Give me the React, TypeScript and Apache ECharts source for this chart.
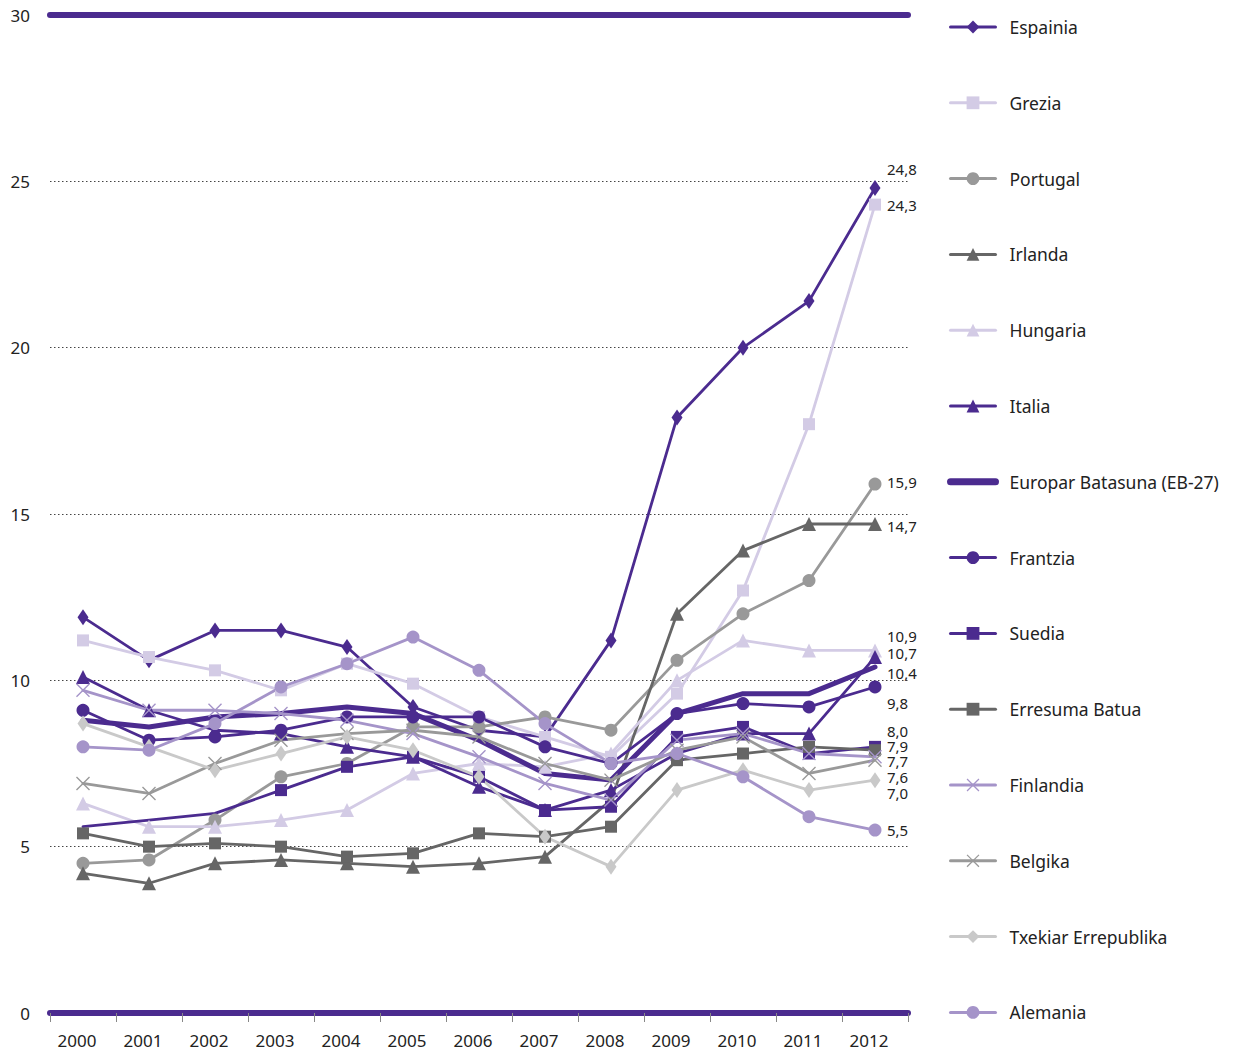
import React, { useEffect, useRef } from "react";
import * as echarts from "echarts";

const years = ["2000", "2001", "2002", "2003", "2004", "2005", "2006", "2007", "2008", "2009", "2010", "2011", "2012"];

const espainia = [11.9, 10.6, 11.5, 11.5, 11.0, 9.2, 8.5, 8.3, 11.2, 17.9, 20.0, 21.4, 24.8];
const grezia = [11.2, 10.7, 10.3, 9.7, 10.5, 9.9, 8.9, 8.3, 7.7, 9.6, 12.7, 17.7, 24.3];
const portugal = [4.5, 4.6, 5.8, 7.1, 7.5, 8.6, 8.6, 8.9, 8.5, 10.6, 12.0, 13.0, 15.9];
const irlanda = [4.2, 3.9, 4.5, 4.6, 4.5, 4.4, 4.5, 4.7, 6.4, 12.0, 13.9, 14.7, 14.7];
const hungaria = [6.3, 5.6, 5.6, 5.8, 6.1, 7.2, 7.5, 7.4, 7.8, 10.0, 11.2, 10.9, 10.9];
const italia = [10.1, 9.1, 8.5, 8.4, 8.0, 7.7, 6.8, 6.1, 6.7, 7.8, 8.4, 8.4, 10.7];
const eb27 = [8.8, 8.6, 8.9, 9.0, 9.2, 9.0, 8.2, 7.2, 7.0, 9.0, 9.6, 9.6, 10.4];
const frantzia = [9.1, 8.2, 8.3, 8.5, 8.9, 8.9, 8.9, 8.0, 7.5, 9.0, 9.3, 9.2, 9.8];
const suedia = [5.6, 5.8, 6.0, 6.7, 7.4, 7.7, 7.1, 6.1, 6.2, 8.3, 8.6, 7.8, 8.0];
const erresumaBatua = [5.4, 5.0, 5.1, 5.0, 4.7, 4.8, 5.4, 5.3, 5.6, 7.6, 7.8, 8.0, 7.9];
const finlandia = [9.7, 9.1, 9.1, 9.0, 8.8, 8.4, 7.7, 6.9, 6.4, 8.2, 8.4, 7.8, 7.7];
const belgika = [6.9, 6.6, 7.5, 8.2, 8.4, 8.5, 8.3, 7.5, 7.0, 7.9, 8.3, 7.2, 7.6];
const txekiar = [8.7, 8.0, 7.3, 7.8, 8.3, 7.9, 7.1, 5.3, 4.4, 6.7, 7.3, 6.7, 7.0];
const alemania = [8.0, 7.9, 8.7, 9.8, 10.5, 11.3, 10.3, 8.7, 7.5, 7.8, 7.1, 5.9, 5.5];

const yTicks = { min: 0, max: 30, interval: 5 };

const PURPLE = "#4B2B8F";
const LIGHT_LAV = "#D3CBE5";
const MID_LAV = "#A594C9";
const GRAY = "#999999";
const DARK_GRAY = "#666666";
const LIGHT_GRAY = "#C9C9C9";

const X_PATH =
  "path://M0,0.7 L0.7,0 L5,4.3 L9.3,0 L10,0.7 L5.7,5 L10,9.3 L9.3,10 L5,5.7 L0.7,10 L0,9.3 L4.3,5 Z";

type Cfg = {
  name: string;
  data: number[];
  color: string;
  symbol: string;
  size: number | number[];
  width?: number;
  labelDy: number;
  noSymbolUntil?: number;
  hideSymbols?: boolean;
};

const seriesCfg: Cfg[] = [
  { name: "Espainia", data: espainia, color: PURPLE, symbol: "diamond", size: [11, 16], labelDy: -19 },
  { name: "Grezia", data: grezia, color: LIGHT_LAV, symbol: "rect", size: 12, labelDy: 0 },
  { name: "Portugal", data: portugal, color: GRAY, symbol: "circle", size: 13, labelDy: -2 },
  { name: "Irlanda", data: irlanda, color: DARK_GRAY, symbol: "triangle", size: 14, labelDy: 2 },
  { name: "Hungaria", data: hungaria, color: LIGHT_LAV, symbol: "triangle", size: 14, labelDy: -14 },
  { name: "Italia", data: italia, color: PURPLE, symbol: "triangle", size: 14, labelDy: -4 },
  { name: "Europar Batasuna (EB-27)", data: eb27, color: PURPLE, symbol: "circle", size: 0, width: 5, labelDy: 6, hideSymbols: true },
  { name: "Frantzia", data: frantzia, color: PURPLE, symbol: "circle", size: 13, labelDy: 16 },
  { name: "Suedia", data: suedia, color: PURPLE, symbol: "rect", size: 12, labelDy: -16, noSymbolUntil: 3 },
  { name: "Erresuma Batua", data: erresumaBatua, color: DARK_GRAY, symbol: "rect", size: 12, labelDy: -4 },
  { name: "Finlandia", data: finlandia, color: MID_LAV, symbol: X_PATH, size: 14, labelDy: 4 },
  { name: "Belgika", data: belgika, color: GRAY, symbol: X_PATH, size: 14, labelDy: 17 },
  { name: "Txekiar Errepublika", data: txekiar, color: LIGHT_GRAY, symbol: "diamond", size: [11, 16], labelDy: 13 },
  { name: "Alemania", data: alemania, color: MID_LAV, symbol: "circle", size: 13, labelDy: 0 },
];

const FONT = "Noto Sans";

export default function App() {
  const ref = useRef<HTMLDivElement>(null);

  useEffect(() => {
    if (!ref.current) return;
    const chart = echarts.init(ref.current, undefined, { renderer: "svg" });

    const series = seriesCfg.map((c) => ({
      name: c.name,
      type: "line",
      xAxisIndex: 0,
      yAxisIndex: 0,
      symbol: c.symbol,
      symbolSize: c.size,
      showSymbol: !c.hideSymbols,
      lineStyle: { color: c.color, width: c.width ?? 2.8, cap: "round", join: "round" },
      itemStyle: { color: c.color },
      data: c.data.map((v, i) => {
        const d: any = { value: v };
        if (c.noSymbolUntil && i < c.noSymbolUntil) d.symbol = "none";
        return d;
      }),
      endLabel: {
        show: true,
        distance: 12,
        offset: [0, c.labelDy],
        color: "#222",
        fontSize: 15,
        lineHeight: 14,
        fontFamily: FONT,
        formatter: (p: any) => Number(p.value).toFixed(1).replace(".", ","),
      },
      emphasis: { disabled: true },
    }));

    chart.setOption({
      animation: false,
      textStyle: { fontFamily: FONT },
      grid: { left: 50, right: 331, top: 15, bottom: 39, containLabel: false },
      legend: {
        orient: "vertical",
        left: 947,
        top: 18,
        padding: 0,
        itemWidth: 45,
        itemHeight: 16,
        itemGap: 57.8,
        lineStyle: { width: 3 },
        textStyle: { fontSize: 17.5, color: "#222", fontFamily: FONT, lineHeight: 18, padding: [0, 0, 0, 9] },
        data: seriesCfg.map((c) =>
          c.hideSymbols
            ? { name: c.name, itemStyle: { opacity: 0 }, lineStyle: { width: 7, cap: "round" } }
            : { name: c.name }
        ),
      },
      xAxis: [
        {
          type: "category",
          data: years,
          boundaryGap: true,
          position: "bottom",
          axisLine: { show: true, lineStyle: { color: PURPLE, width: 6 } },
          axisTick: { show: true, length: 9, lineStyle: { color: "#888", width: 1 } },
          axisLabel: { color: "#222", fontSize: 17, fontFamily: FONT, margin: 19, padding: [0, 12, 0, 0] },
          splitLine: { show: false },
        },
        {
          type: "category",
          data: years,
          boundaryGap: true,
          position: "top",
          axisLine: { show: true, lineStyle: { color: PURPLE, width: 6 } },
          axisTick: { show: false },
          axisLabel: { show: false },
          splitLine: { show: false },
        },
      ],
      yAxis: {
        type: "value",
        min: yTicks.min,
        max: yTicks.max,
        interval: yTicks.interval,
        axisLine: { show: false },
        axisTick: { show: false },
        axisLabel: { color: "#222", fontSize: 17, fontFamily: FONT, margin: 20 },
        splitLine: { show: true, lineStyle: { color: "#444", width: 1, type: [1.5, 2.5] } },
      },
      series,
    });

    return () => chart.dispose();
  }, []);

  return (
    <div
      ref={ref}
      style={{ position: "fixed", left: 0, top: 0, width: 1239, height: 1052, background: "#fff" }}
    />
  );
}
